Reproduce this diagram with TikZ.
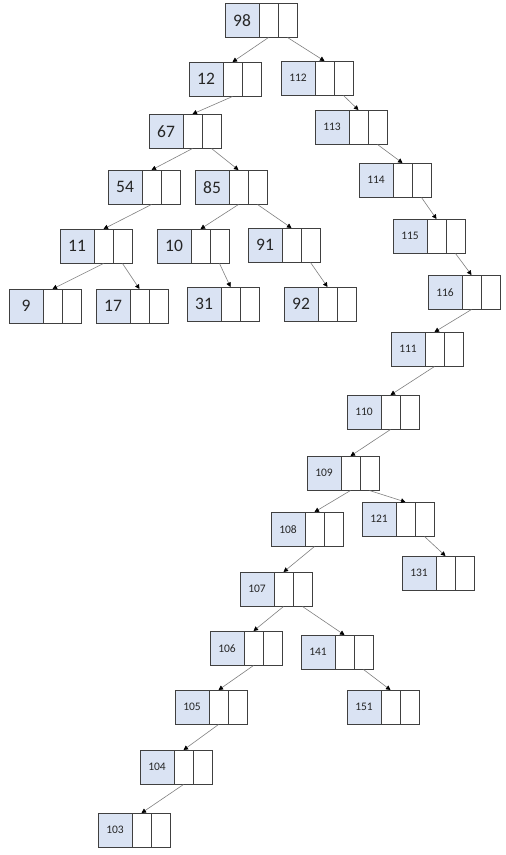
\documentclass[tikz,border=0pt]{standalone}
\usepackage{fontspec}
\setmainfont{Carlito}
\usepackage{xcolor}
\usetikzlibrary{positioning,arrows.meta}

\definecolor{keyfill}{HTML}{DAE3F3}
\definecolor{boxline}{HTML}{404040}
\definecolor{linkline}{HTML}{7F7F7F}

\begin{document}
\begin{tikzpicture}[x=1pt,y=-1pt,>={Triangle[length=4.5pt,width=4.5pt,color=black]}]

\tikzstyle{key}=[draw=boxline,line width=0.9pt,fill=keyfill,minimum width=34pt,minimum height=34.5pt,inner sep=0pt,outer sep=0pt,anchor=north west,text=black!85]
\tikzstyle{ptr}=[draw=boxline,line width=0.9pt,fill=white,minimum width=19pt,minimum height=34.5pt,inner sep=0pt,outer sep=0pt]
\tikzstyle{link}=[->,draw=linkline,line width=0.6pt]

\useasboundingbox (0,0) rectangle (506,855);

% two-digit keys
\foreach \n/\x/\y in {98/225/3,12/189/62,67/149/114,54/108/170,85/195/170,
    11/60/229,10/157/229,91/248/228,9/9/289,17/96/289,31/187/287,92/284/287}
{
    \node[key,font=\fontsize{17.5}{20}\selectfont] (\n) at (\x,\y) {\n};
    \node[ptr,right=0pt of \n] (\n l) {};
    \node[ptr,right=0pt of \n l] (\n r) {};
}

% three-digit keys
\foreach \n/\x/\y in {112/281/61,113/315/110,114/359/163,115/393/219,116/428/275,
    111/391/332,110/347/395,109/307/456,108/271/512,121/362/502,131/402/556,
    107/240/572,106/210/631,141/301/635,105/175/690,151/347/690,104/140/750,103/98/813}
{
    \node[key,font=\fontsize{11.5}{13}\selectfont] (\n) at (\x,\y) {\n};
    \node[ptr,right=0pt of \n] (\n l) {};
    \node[ptr,right=0pt of \n l] (\n r) {};
}

% left children
\foreach \a/\b in {98/12,12/67,67/54,54/11,85/10,11/9,116/111,111/110,110/109,
    109/108,108/107,107/106,106/105,105/104,104/103}
    \draw[link] (\a l.south) -- (\b l.north);

% right children
\foreach \a/\b in {98/112,67/85,85/91,11/17,10/31,91/92,112/113,113/114,114/115,
    115/116,109/121,121/131,107/141,141/151}
    \draw[link] (\a r.south) -- (\b l.north);

\end{tikzpicture}
\end{document}
